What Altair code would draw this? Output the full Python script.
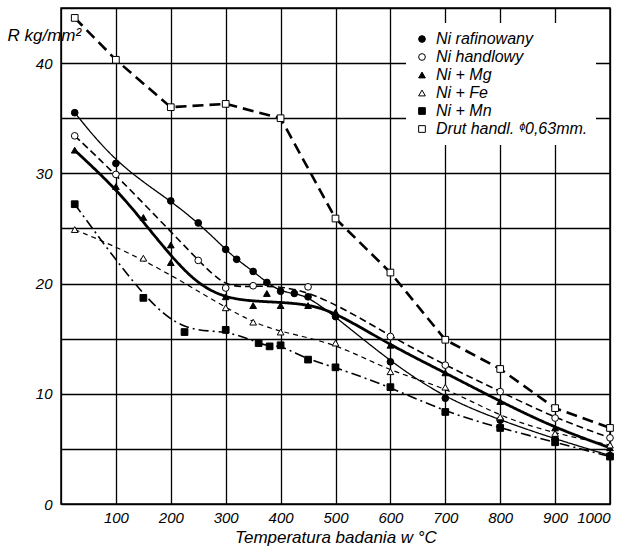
import altair as alt
import pandas as pd

# ---- data ----
series_names = ["Ni rafinowany", "Ni handlowy", "Ni + Mg", "Ni + Fe", "Ni + Mn", "Drut handl. ᶲ0,63mm."]

t_raf = [25, 100, 200, 250, 300, 320, 350, 375, 400, 425, 450, 500, 600, 700, 800, 900, 1000]
r_raf = [35.5, 30.9, 27.5, 25.5, 23.1, 22.2, 21.1, 20.1, 19.3, 19.1, 18.8, 17.0, 12.9, 9.6, 7.6, 5.9, 4.4]

t_han = [25, 100, 250, 300, 350, 450, 600, 700, 800, 900, 1000]
r_han = [33.4, 29.9, 22.1, 19.6, 19.8, 19.7, 15.2, 12.6, 10.2, 7.8, 6.0]

t_mg = [25, 100, 150, 200, 200, 300, 350, 375, 400, 450, 500, 600, 700, 800, 900, 1000]
r_mg = [32.1, 28.8, 26.0, 23.5, 21.9, 18.8, 18.0, 19.1, 18.0, 18.0, 17.4, 14.4, 11.9, 9.3, 6.9, 5.1]

t_fe = [25, 150, 300, 350, 400, 500, 600, 700, 800, 900, 1000]
r_fe = [24.9, 22.3, 17.8, 16.5, 15.6, 14.6, 12.0, 10.6, 7.9, 6.4, 5.35]

t_mn = [25, 150, 225, 300, 360, 380, 400, 450, 500, 600, 700, 800, 900, 1000]
r_mn = [27.2, 18.7, 15.6, 15.8, 14.6, 14.3, 14.4, 13.1, 12.4, 10.6, 8.35, 6.9, 5.6, 4.3]

t_drut = [25, 100, 200, 300, 400, 500, 600, 700, 800, 900, 1000]
r_drut = [44.1, 40.3, 36.0, 36.3, 35.0, 25.9, 21.0, 14.9, 12.25, 8.7, 6.9]

# drawn curve of Ni + Mg (read along the hand-drawn line, which smooths the scatter)
t_mg_curve = [25, 100, 150, 200, 250, 300, 350, 400, 450, 500, 600, 700, 800, 900, 1000]
r_mg_curve = [32.1, 28.6, 25.6, 22.5, 19.9, 18.7, 18.4, 18.3, 18.1, 17.4, 14.4, 11.9, 9.3, 6.9, 5.1]

x_ticks = list(range(0, 1001, 100))
y_ticks = list(range(0, 46, 5))

# ---- styles ----
shapes = ["circle", "circle", "triangle-up", "triangle-up", "square", "square"]
fills = ["black", "white", "black", "white", "black", "white"]
dashes = [[1, 0], [7, 4], [1, 0], [5, 4], [10, 4, 2, 4], [11, 6]]
widths = [1.3, 1.6, 2.8, 1.2, 1.6, 2.6]
interps = ["basis", "basis", "basis", "basis", "basis", "linear"]

all_t = [t_raf, t_han, t_mg, t_fe, t_mn, t_drut]
all_r = [r_raf, r_han, r_mg, r_fe, r_mn, r_drut]
rows = []
for name, ts, rs in zip(series_names, all_t, all_r):
    for t, r in zip(ts, rs):
        rows.append({"series": name, "T": t, "R": r})
df = pd.DataFrame(rows)

curve_t = list(all_t)
curve_r = list(all_r)
curve_t[2] = t_mg_curve
curve_r[2] = r_mg_curve

FONT = "Liberation Sans"

x_axis = alt.Axis(
    values=x_ticks, labelExpr="datum.value == 0 ? '' : format(datum.value, 'd')",
    grid=True, gridColor="black", gridWidth=1.3, gridOpacity=1,
    ticks=False, domain=False, labelFont=FONT, labelFontSize=15,
    labelFontStyle="italic", labelColor="black", labelPadding=6,
    title="Temperatura badania w °C", titleFont=FONT, titleFontSize=17,
    titleFontStyle="italic", titleFontWeight="normal", titleColor="black",
    titlePadding=4,
)
y_axis = alt.Axis(
    values=y_ticks, labelExpr="datum.value % 10 == 0 && datum.value < 45 ? datum.label : ''",
    grid=True, gridColor="black", gridWidth=1.3, gridOpacity=1,
    ticks=False, domain=False, labelFont=FONT, labelFontSize=15,
    labelFontStyle="italic", labelColor="black", labelPadding=9,
    title="R kg/mm²", titleFont=FONT, titleFontSize=17, titleFontStyle="italic",
    titleFontWeight="normal", titleColor="black", titleAngle=0,
    titleX=-54, titleY=27, titleAlign="left", titleBaseline="middle",
)
x_scale = alt.Scale(domain=[0, 1000], nice=False, zero=False)
y_scale = alt.Scale(domain=[0, 45], nice=False)

layers = []
for i, name in enumerate(series_names):
    sub = pd.DataFrame({"T": curve_t[i], "R": curve_r[i]})
    layers.append(
        alt.Chart(sub).mark_line(
            color="black", strokeDash=dashes[i], strokeWidth=widths[i],
            interpolate=interps[i],
        ).encode(
            x=alt.X("T:Q", scale=x_scale, axis=x_axis),
            y=alt.Y("R:Q", scale=y_scale, axis=y_axis),
        )
    )

legend = alt.Legend(
    title=None, orient="none", legendX=345, legendY=15, padding=8,
    fillColor="white", labelFont=FONT, labelFontSize=16,
    labelFontStyle="italic", labelColor="black", rowPadding=2,
    symbolSize=45, symbolStrokeWidth=1, symbolOpacity=1, labelOffset=6,
)

points = alt.Chart(df).mark_point(
    filled=True, strokeWidth=1, size=45, opacity=1
).encode(
    x=alt.X("T:Q", scale=x_scale, axis=x_axis),
    y=alt.Y("R:Q", scale=y_scale, axis=y_axis),
    shape=alt.Shape("series:N", scale=alt.Scale(domain=series_names, range=shapes), legend=legend),
    fill=alt.Fill("series:N", scale=alt.Scale(domain=series_names, range=fills), legend=legend),
    stroke=alt.Stroke("series:N", scale=alt.Scale(domain=series_names, range=["black"] * 6), legend=legend),
)
layers.append(points)

chart = alt.layer(*layers).properties(
    width=549, height=496,
    padding={"left": 61, "top": 8, "right": 11, "bottom": 49},
    autosize="none", background="white",
).configure_view(stroke="black", strokeWidth=1.5)

chart.save("out.html", embed_options={"renderer": "svg", "actions": False})
